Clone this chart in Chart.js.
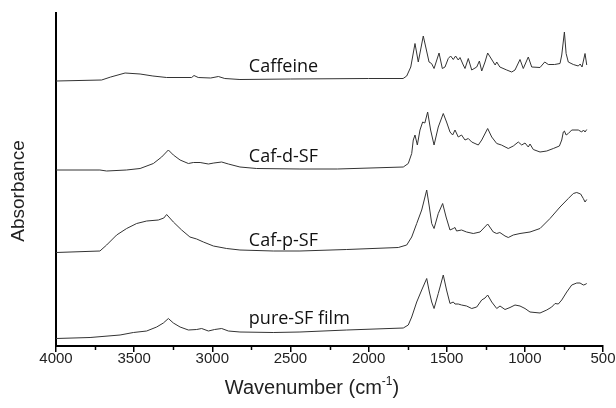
<!DOCTYPE html>
<html>
<head>
<meta charset="utf-8">
<script src="https://cdn.jsdelivr.net/npm/chart.js@4"></script>
<style>
  body { margin: 0; background: #fff; }
</style>
</head>
<body>
<canvas id="ftir-chart" width="616" height="408"></canvas>
<script>
// spectra: wavenumber (cm-1) and stacked absorbance (arb. units)
const caffeineWn  = [4000, 3708, 3650, 3558, 3462, 3380, 3292, 3132, 3117, 3090, 3010, 2961, 2920, 2823, 2500, 2000, 1779, 1756, 1730, 1703, 1682, 1650, 1630, 1613, 1597, 1581, 1549, 1528, 1511, 1490, 1475, 1458, 1443, 1426, 1415, 1394, 1383, 1362, 1340, 1308, 1291, 1276, 1255, 1238, 1210, 1190, 1180, 1160, 1116, 1084, 1063, 1031, 1010, 978, 956, 903, 873, 850, 810, 775, 764, 747, 736, 722, 690, 658, 646, 634, 615, 604];
const caffeineAbs = [265, 266, 269, 273, 272, 270, 268.5, 268.5, 270.5, 268.5, 268, 269.5, 267.5, 266.5, 267, 267.5, 267.5, 270, 279, 302.5, 284, 310, 296, 284, 282.5, 277.5, 293, 277.5, 279, 287.5, 290, 286.5, 290, 286, 288.5, 281, 277.5, 287.5, 276, 279, 285, 275, 284, 293, 286, 281, 284, 279, 276, 274, 276, 286.5, 277.5, 289, 279, 278.5, 284, 281.5, 281.5, 282.5, 291, 314, 292.5, 284, 281.5, 280, 282, 279, 292.5, 281];

const cafDWn  = [4000, 3719, 3676, 3550, 3462, 3377, 3324, 3281, 3249, 3206, 3153, 3121, 3078, 3025, 2990, 2940, 2897, 2823, 2716, 2439, 2200, 1778, 1746, 1724, 1714, 1703, 1688, 1671, 1654, 1640, 1622, 1603, 1581, 1554, 1522, 1501, 1479, 1462, 1447, 1426, 1405, 1383, 1362, 1340, 1319, 1298, 1276, 1238, 1212, 1180, 1150, 1106, 1074, 1042, 1020, 999, 978, 967, 946, 903, 860, 818, 779, 764, 754, 747, 736, 722, 700, 658, 636, 625, 615, 604];
const cafDAbs = [176, 176, 175, 176, 177.5, 182.5, 189, 196, 191, 186, 182.5, 183.5, 183.5, 182, 183, 184, 182, 179, 177.5, 177, 177, 179, 182.5, 192.5, 206, 211, 201, 216, 224, 223, 234, 216, 201, 219, 232.5, 224, 214, 211, 216, 209, 211, 206, 207.5, 204, 202.5, 201, 206, 217.5, 209, 202.5, 201, 197.5, 200, 204, 201, 203, 199, 202, 196.5, 194, 195, 197.5, 200, 206, 214, 215, 211, 212.5, 216, 216, 214, 216, 214, 216.5];

const cafPWn  = [4000, 3719, 3676, 3612, 3548, 3484, 3420, 3345, 3310, 3292, 3249, 3196, 3143, 3100, 3057, 2993, 2908, 2823, 2610, 2439, 2140, 1810, 1756, 1724, 1692, 1660, 1628, 1611, 1596, 1581, 1554, 1526, 1504, 1479, 1458, 1447, 1437, 1405, 1373, 1330, 1287, 1238, 1202, 1180, 1160, 1127, 1106, 1074, 1031, 967, 903, 839, 775, 722, 690, 668, 643, 626, 615, 604];
const cafPAbs = [93.5, 95, 101, 111, 117.5, 122.5, 125, 126, 128, 131.5, 124, 116, 109, 107, 104, 100, 97.5, 96, 95, 95, 96.5, 98.5, 101, 109, 122.5, 136, 156, 139, 122.5, 117.5, 132.5, 142.5, 129, 116, 117.5, 118.5, 115, 116, 114, 112.5, 114, 122, 114, 112.5, 113.5, 110, 108.5, 111, 112.5, 114, 117.5, 127.5, 139, 147.5, 152.5, 153.5, 152, 147.5, 144, 146.5];

const pureSfWn  = [4000, 3782, 3590, 3505, 3420, 3356, 3313, 3281, 3249, 3206, 3153, 3100, 3068, 3025, 2985, 2940, 2897, 2823, 2610, 2439, 2140, 1778, 1746, 1724, 1692, 1660, 1628, 1611, 1596, 1581, 1554, 1522, 1501, 1479, 1458, 1447, 1426, 1405, 1373, 1340, 1308, 1276, 1255, 1238, 1212, 1180, 1159, 1127, 1095, 1063, 1031, 999, 967, 903, 860, 828, 807, 786, 764, 732, 700, 668, 647, 626, 615, 604];
const pureSfAbs = [7.5, 8.5, 11, 13.5, 15, 19, 23, 27.5, 23, 19, 16, 16.5, 17.5, 15, 16.5, 17.5, 15, 14, 13.5, 14, 16, 18, 21, 29, 44, 56, 67.5, 54, 44, 37.5, 52.5, 71, 56, 42.5, 44, 42, 42, 41, 40, 37.5, 39, 46, 48, 51, 44, 37.5, 40, 36.5, 38.5, 41, 40, 37.5, 34, 33, 36, 39, 42.5, 42, 46, 54, 61, 63, 63, 61, 61.5, 62.5];

const seriesNames = ['Caffeine', 'Caf-d-SF', 'Caf-p-SF', 'pure-SF film'];
const xTicks = [4000, 3500, 3000, 2500, 2000, 1500, 1000, 500];
const xMinorTicks = [3750, 3250, 2750, 2250, 1750, 1250, 750];

const toPoints = (wn, abs) => wn.map((w, i) => ({ x: w, y: abs[i] }));

const lineStyle = {
  borderColor: '#333',
  borderWidth: 1,
  pointRadius: 0,
  tension: 0,
  fill: false,
};

// labels next to each trace, left-aligned at one wavenumber
const labelAnchors = { wn: 2766, y: [274, 184, 100, 22] };

const annotatePlugin = {
  id: 'annotate',
  afterDraw(chart) {
    const ctx = chart.ctx;
    const x = chart.scales.x;
    const y = chart.scales.y;
    ctx.save();

    // minor ticks on the x axis
    ctx.strokeStyle = '#000';
    ctx.lineWidth = 1.5;
    xMinorTicks.forEach((v) => {
      const px = Math.round(x.getPixelForValue(v)) + 0.5;
      ctx.beginPath();
      ctx.moveTo(px, x.top);
      ctx.lineTo(px, x.top + 4);
      ctx.stroke();
    });

    // trace names
    ctx.fillStyle = '#111';
    ctx.font = '18px "Open Sans", sans-serif';
    ctx.textAlign = 'left';
    ctx.textBaseline = 'alphabetic';
    seriesNames.forEach((name, i) => {
      ctx.fillText(name, x.getPixelForValue(labelAnchors.wn), y.getPixelForValue(labelAnchors.y[i]));
    });

    // x axis title with a real superscript
    const font = '"Liberation Sans", Arial, sans-serif';
    ctx.fillStyle = '#222';
    ctx.textBaseline = 'alphabetic';
    const main = 'Wavenumber (cm';
    const sup = '-1';
    ctx.font = '20px ' + font;
    const wMain = ctx.measureText(main).width;
    const wClose = ctx.measureText(')').width;
    ctx.font = '12px ' + font;
    const wSup = ctx.measureText(sup).width;
    let tx = 312 - (wMain + wSup + wClose) / 2;
    const base = 394;
    ctx.font = '20px ' + font;
    ctx.fillText(main, tx, base);
    tx += wMain;
    ctx.font = '12px ' + font;
    ctx.fillText(sup, tx, base - 9);
    tx += wSup;
    ctx.font = '20px ' + font;
    ctx.fillText(')', tx, base);

    // y axis title
    ctx.translate(19, 191);
    ctx.rotate(-Math.PI / 2);
    ctx.font = '19px ' + font;
    ctx.textAlign = 'center';
    ctx.textBaseline = 'middle';
    ctx.fillText('Absorbance', 0, 0);
    ctx.restore();
  },
};

const ctx = document.getElementById('ftir-chart').getContext('2d');
new Chart(ctx, {
  type: 'line',
  data: {
    datasets: [
      { label: seriesNames[0], data: toPoints(caffeineWn, caffeineAbs), ...lineStyle },
      { label: seriesNames[1], data: toPoints(cafDWn, cafDAbs), ...lineStyle },
      { label: seriesNames[2], data: toPoints(cafPWn, cafPAbs), ...lineStyle },
      { label: seriesNames[3], data: toPoints(pureSfWn, pureSfAbs), ...lineStyle },
    ],
  },
  options: {
    responsive: false,
    animation: false,
    layout: { padding: { top: 13, right: 13, left: 0, bottom: 0 } },
    plugins: {
      legend: { display: false },
      tooltip: { enabled: false },
    },
    scales: {
      x: {
        type: 'linear',
        reverse: true,
        min: 500,
        max: 4000,
        afterBuildTicks: (scale) => { scale.ticks = xTicks.map((v) => ({ value: v })); },
        afterFit: (scale) => { scale.height = 62; },
        ticks: {
          color: '#222',
          padding: -2,
          maxRotation: 0,
          callback: (v) => String(v),
          font: { family: '"Liberation Sans", Arial, sans-serif', size: 15 },
        },
        grid: {
          drawOnChartArea: false,
          drawTicks: true,
          tickLength: 6,
          color: '#000',
          lineWidth: 1.5,
        },
        border: { display: true, color: '#000', width: 2 },
      },
      y: {
        min: 0,
        max: 333,
        afterFit: (scale) => { scale.width = 56; },
        ticks: { display: false },
        grid: { display: false },
        border: { display: true, color: '#000', width: 2 },
      },
    },
  },
  plugins: [annotatePlugin],
});
</script>
</body>
</html>
